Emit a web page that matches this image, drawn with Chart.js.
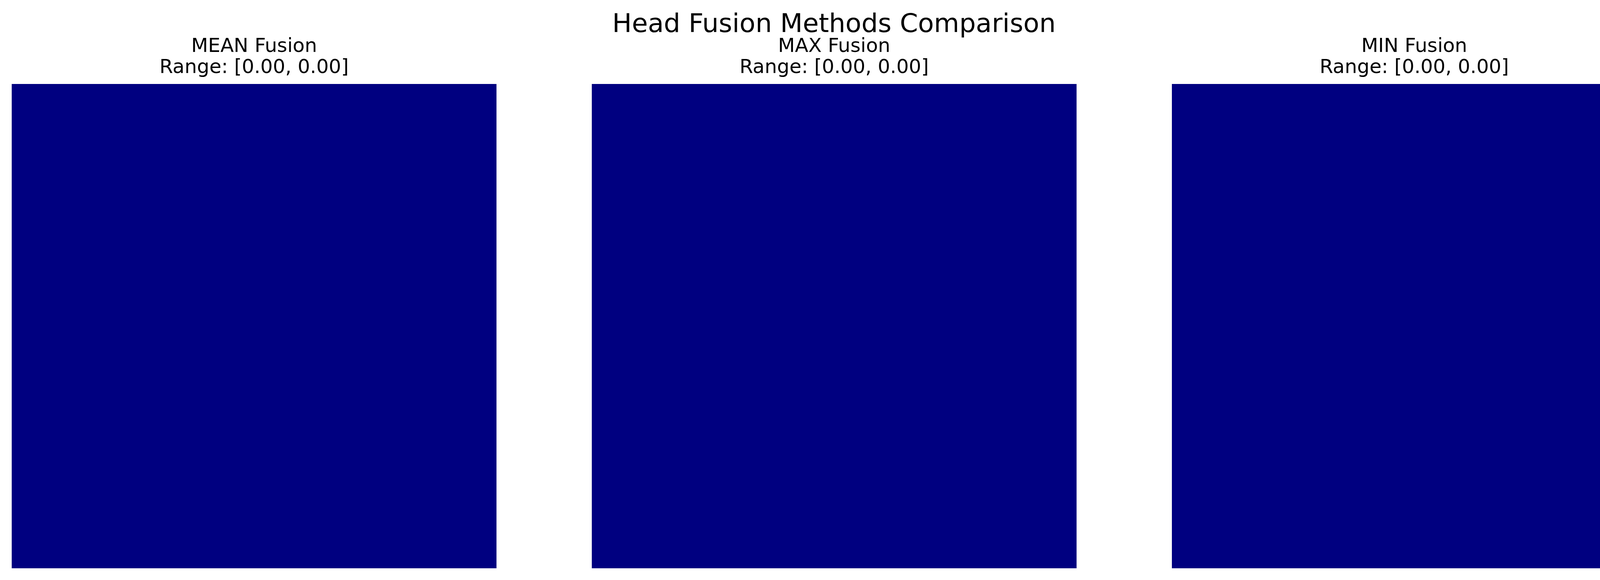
<!DOCTYPE html>
<html>
<head>
<meta charset="utf-8">
<script src="https://cdn.jsdelivr.net/npm/chart.js@4.4.1/dist/chart.umd.min.js"></script>
<style>
  html, body { margin: 0; padding: 0; background: #fff; }
  body { width: 4270px; height: 1485px; position: relative; overflow: hidden; font-family: 'DejaVu Sans', sans-serif; }
  #suptitle {
    position: absolute; left: 0; width: 4270px; top: 26px;
    text-align: center; font-size: 66.7px; line-height: 66.7px; color: #000;
  }
  canvas { position: absolute; top: 0; }
</style>
</head>
<body>
<div id="suptitle">Head Fusion Methods Comparison</div>
<canvas id="panel-0" width="1241" height="1455" style="left:30px"></canvas>
<canvas id="panel-1" width="1241" height="1455" style="left:1515px"></canvas>
<canvas id="panel-2" width="1241" height="1455" style="left:3000px"></canvas>
<script>
// fusion methods and the value range of each fused attention map
const methods = ['MEAN', 'MAX', 'MIN'];
const rangeMin = [0.00, 0.00, 0.00];
const rangeMax = [0.00, 0.00, 0.00];
// fused map value (whole map is constant)
const fusedValues = [0.00, 0.00, 0.00];
// image extent on the hidden axes
const extent = [0, 1];

// matplotlib 'jet' colormap
function jet(t) {
  t = Math.max(0, Math.min(1, t));
  const clip = v => Math.max(0, Math.min(1, v));
  const r = clip(1.5 - Math.abs(4 * t - 3));
  const g = clip(1.5 - Math.abs(4 * t - 2));
  const b = clip(1.5 - Math.abs(4 * t - 1));
  return `rgb(${Math.round(r * 255)}, ${Math.round(g * 255)}, ${Math.round(b * 255)})`;
}

methods.forEach((m, i) => {
  const lo = rangeMin[i], hi = rangeMax[i];
  const norm = hi > lo ? (fusedValues[i] - lo) / (hi - lo) : 0;
  const ctx = document.getElementById('panel-' + i).getContext('2d');
  new Chart(ctx, {
    type: 'bar',
    data: {
      labels: [m],
      datasets: [{
        data: [extent],
        backgroundColor: jet(norm),
        borderWidth: 0,
        barPercentage: 1,
        categoryPercentage: 1
      }]
    },
    options: {
      responsive: false,
      animation: false,
      layout: { padding: 0 },
      plugins: {
        legend: { display: false },
        tooltip: { enabled: false },
        title: {
          display: true,
          text: [`${m} Fusion`, `Range: [${lo.toFixed(2)}, ${hi.toFixed(2)}]`],
          color: '#000',
          font: { family: 'DejaVu Sans', size: 50, weight: 'normal', lineHeight: 1.08 },
          padding: { top: 93, bottom: 14 }
        }
      },
      scales: {
        x: { display: false },
        y: { display: false, min: extent[0], max: extent[1] }
      }
    }
  });
});
</script>
</body>
</html>
